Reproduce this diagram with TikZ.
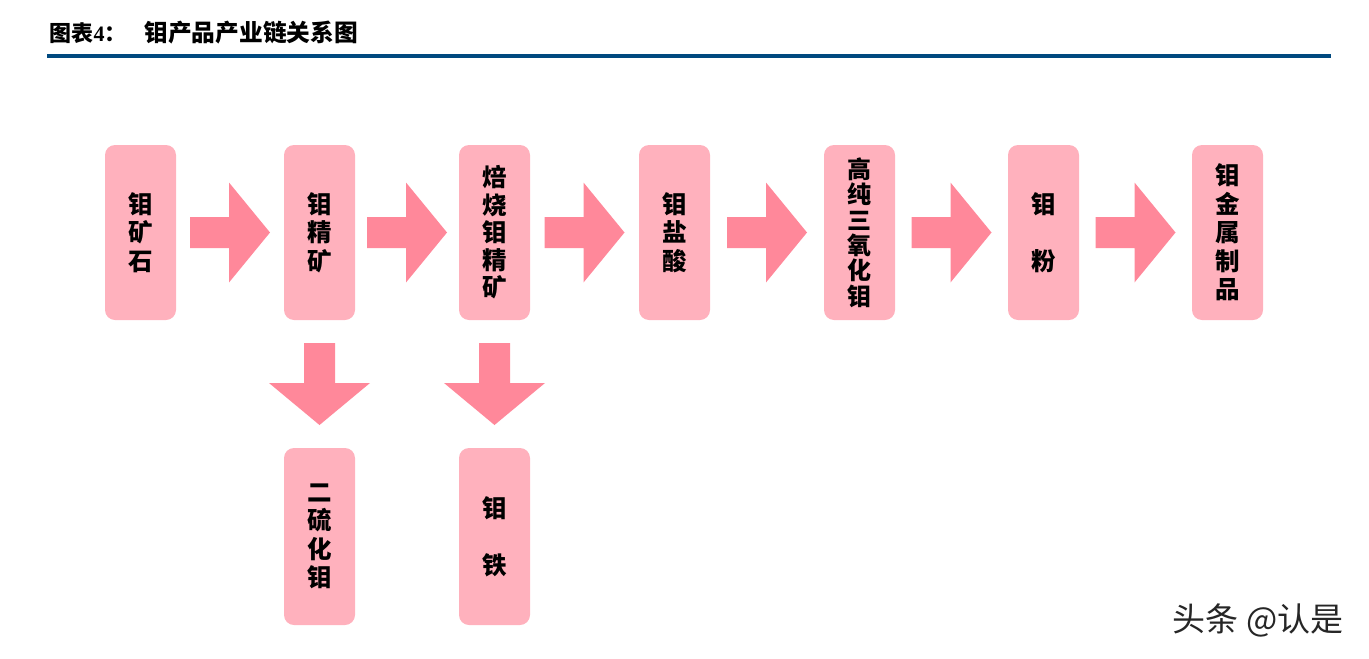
\documentclass[tikz,border=0pt]{standalone}
\usepackage{fontspec}
\newfontfamily\cjk{Noto Sans CJK SC}
\newfontfamily\numfont{Liberation Serif}
\usetikzlibrary{calc}
\definecolor{boxpink}{HTML}{FFB1BD}
\definecolor{arrowpink}{HTML}{FF889A}
\definecolor{rulebl}{HTML}{00497F}

\begin{document}
\begin{tikzpicture}[x=1pt, y=-1pt,
  prod/.style={fill=boxpink, rounded corners=10pt, minimum width=71pt, minimum height=175pt,
    inner sep=0pt, align=center, font=\cjk\bfseries\fontsize{24.5}{28.5}\selectfont},
  rblock/.pic={\fill[arrowpink] (-40,-15.5) -- (-1,-15.5) -- (-1,-50) -- (40,0) -- (-1,50) -- (-1,15.5) -- (-40,15.5) -- cycle;},
  dblock/.pic={\fill[arrowpink] (-15.5,-41) -- (-15.5,-1) -- (-50.5,-1) -- (0,41) -- (50.5,-1) -- (15.5,-1) -- (15.5,-41) -- cycle;}]
  \useasboundingbox (0,0) rectangle (1369,659);
  \node[anchor=west, font=\cjk\bfseries\fontsize{22}{22}\selectfont] (ttlno) at (46,33) {图表{\numfont 4}：};
  \node[anchor=west, font=\cjk\bfseries\fontsize{23.7}{24}\selectfont] (ttl) at (141,33) {钼产品产业链关系图};
  \fill[rulebl] (47,54) rectangle (1331,58);
  \node[prod] (ore) at (140.5,232.5) {钼\\矿\\石};
  \node[prod] (conc) at (319.5,232.5) {钼\\精\\矿};
  \node[prod, font=\cjk\bfseries\fontsize{24.5}{27.5}\selectfont] (roast) at (494.5,232.5) {焙\\烧\\钼\\精\\矿};
  \node[prod] (acid) at (674.5,232.5) {钼\\盐\\酸};
  \node[prod, font=\cjk\bfseries\fontsize{24}{25.4}\selectfont] (oxide) at (859.5,232.5) {高\\纯\\三\\氧\\化\\钼};
  \node[prod] (powder) at (1043.5,232.5) {钼\\[28.5pt]粉};
  \node[prod] (metal) at (1227.5,232.5) {钼\\金\\属\\制\\品};
  \node[prod, minimum height=177pt] (sulf) at (319.5,536.5) {二\\硫\\化\\钼};
  \node[prod, minimum height=177pt] (feal) at (494.5,536.5) {钼\\[28.5pt]铁};
  \pic at ($(ore.east)!0.5!(conc.west)$) {rblock};
  \pic at ($(conc.east)!0.5!(roast.west)$) {rblock};
  \pic at ($(roast.east)!0.5!(acid.west)$) {rblock};
  \pic at ($(acid.east)!0.5!(oxide.west)$) {rblock};
  \pic at ($(oxide.east)!0.5!(powder.west)$) {rblock};
  \pic at ($(powder.east)!0.5!(metal.west)$) {rblock};
  \pic at ($(conc.south)!0.5!(sulf.north)$) {dblock};
  \pic at ($(roast.south)!0.5!(feal.north)$) {dblock};
  \node[font=\cjk\fontsize{33}{33}\selectfont, text=black!85] (wm) at (1258,620) {头条 @认是};
\end{tikzpicture}
\end{document}
